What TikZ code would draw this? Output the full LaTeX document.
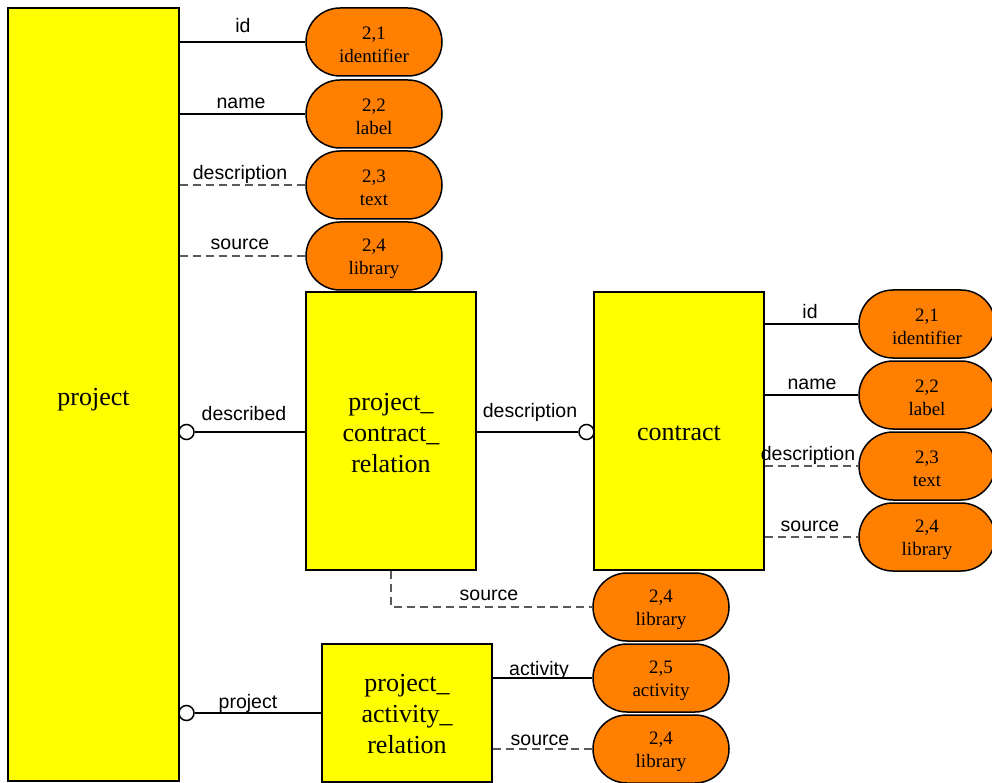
\documentclass[tikz,border=0pt]{standalone}
\usepackage{fontspec}
\setmainfont{Liberation Serif}
\setsansfont{Liberation Sans}
\usetikzlibrary{shapes.misc}
\definecolor{entityyellow}{RGB}{255,255,0}
\definecolor{attrorange}{RGB}{255,128,0}
\definecolor{dashgray}{RGB}{90,90,90}

\tikzset{
  entity/.style={draw=black, line width=1.5pt, fill=entityyellow, inner sep=0pt},
  entitytext/.style={align=center, inner sep=0pt, font=\fontsize{26}{31}\selectfont},
  attr/.style={draw=black, line width=1.5pt, fill=attrorange, rounded rectangle,
    minimum width=136pt, minimum height=68pt, inner sep=0pt},
  attrtext/.style={align=center, inner sep=0pt, yshift=-3pt,
    font=\fontsize{19}{23}\selectfont},
  link/.style={line width=1.5pt},
  optlink/.style={line width=1.2pt, draw=dashgray, dash pattern=on 8pt off 5pt},
  role/.style={font=\sffamily\fontsize{19.5}{22}\selectfont, anchor=base, inner sep=0pt},
  ring/.style={circle, draw=black, line width=1.5pt, fill=white, minimum size=15pt, inner sep=0pt},
}

\begin{document}
\begin{tikzpicture}[x=1pt,y=-1pt]
\useasboundingbox (0,0) rectangle (992,783);

% entities
\node[entity, minimum width=171pt, minimum height=773pt,
  label={[entitytext, yshift=-5pt]center:project}] (project) at (93.5,394.5) {};
\node[entity, minimum width=170pt, minimum height=278pt,
  label={[entitytext, yshift=-2pt]center:project\_\\contract\_\\relation}] (pcr) at (391,431) {};
\node[entity, minimum width=170pt, minimum height=278pt,
  label={[entitytext, yshift=-2pt]center:contract}] (contract) at (679,431) {};
\node[entity, minimum width=170pt, minimum height=138pt,
  label={[entitytext, yshift=-1pt]center:project\_\\activity\_\\relation}] (par) at (407,713) {};

% attributes of project
\node[attr, label={[attrtext]center:2,1\\identifier}] (pa1) at (374,42)  {};
\node[attr, label={[attrtext]center:2,2\\label}]      (pa2) at (374,114) {};
\node[attr, label={[attrtext]center:2,3\\text}]       (pa3) at (374,185) {};
\node[attr, label={[attrtext]center:2,4\\library}]    (pa4) at (374,256) {};

% attributes of contract
\node[attr, label={[attrtext]center:2,1\\identifier}] (ca1) at (927,324) {};
\node[attr, label={[attrtext]center:2,2\\label}]      (ca2) at (927,395) {};
\node[attr, label={[attrtext]center:2,3\\text}]       (ca3) at (927,466) {};
\node[attr, label={[attrtext]center:2,4\\library}]    (ca4) at (927,537) {};

% attributes of the relations
\node[attr, label={[attrtext]center:2,4\\library}]  (ra1) at (661,607) {};
\node[attr, label={[attrtext]center:2,5\\activity}] (ra2) at (661,678) {};
\node[attr, label={[attrtext]center:2,4\\library}]  (ra3) at (661,749) {};

% optional-end rings
\node[ring] (ring1) at (186.5,432) {};
\node[ring] (ring2) at (586.5,432) {};
\node[ring] (ring3) at (186.5,713) {};

% connectors
\draw[link] (pa1.west -| project.east) -- (pa1.west);
\draw[link] (pa2.west -| project.east) -- (pa2.west);
\draw[optlink] (pa3.west -| project.east) -- (pa3.west);
\draw[optlink] (pa4.west -| project.east) -- (pa4.west);

\draw[link] (ca1.west -| contract.east) -- (ca1.west);
\draw[link] (ca2.west -| contract.east) -- (ca2.west);
\draw[optlink] (ca3.west -| contract.east) -- (ca3.west);
\draw[optlink] (ca4.west -| contract.east) -- (ca4.west);

\draw[link] (ring1) -- (pcr.west |- ring1);
\draw[link] (pcr.east |- ring2) -- (ring2);
\draw[optlink] (pcr.south) |- (ra1.west);

\draw[link] (ring3) -- (par.west |- ring3);
\draw[link] (par.east |- ra2.west) -- (ra2.west);
\draw[optlink] (par.east |- ra3.west) -- (ra3.west);

% role names
\node[role] (l1) at (243,33) {id};
\node[role] (l2) at (241,109) {name};
\node[role] (l3) at (240,180) {description};
\node[role] (l4) at (240,250) {source};

\node[role] (l5) at (810,318) {id};
\node[role] (l6) at (812,389) {name};
\node[role] (l7) at (808,460) {description};
\node[role] (l8) at (810,531) {source};

\node[role] (l9)  at (244,420) {described};
\node[role] (l10) at (530,417) {description};
\node[role] (l11) at (489,600) {source};
\node[role] (l12) at (248,708) {project};
\node[role] (l13) at (539,675) {activity};
\node[role] (l14) at (540,745) {source};
\end{tikzpicture}
\end{document}
